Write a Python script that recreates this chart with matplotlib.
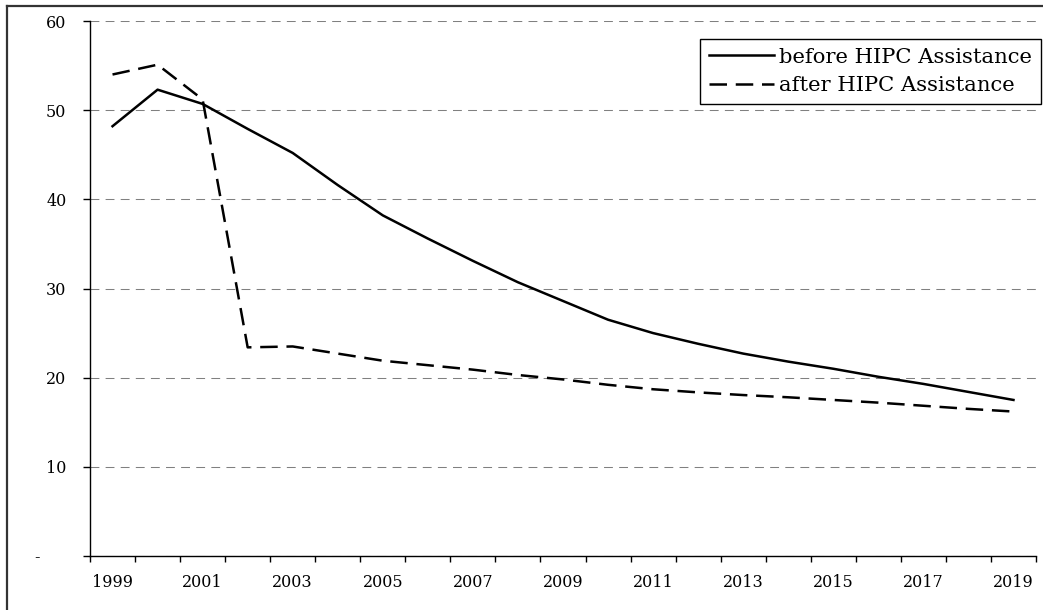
import matplotlib.pyplot as plt
from matplotlib.lines import Line2D

# Data
years = list(range(1999, 2020))
before_hipc = [48.2, 52.3, 50.7, 47.9, 45.2, 41.6, 38.2, 35.6, 33.1, 30.7,
               28.6, 26.5, 25.0, 23.8, 22.7, 21.8, 21.0, 20.1, 19.3, 18.4, 17.5]
after_hipc = [54.0, 55.1, 51.2, 23.4, 23.5, 22.7, 21.9, 21.4, 20.9, 20.3,
              19.8, 19.2, 18.7, 18.35, 18.05, 17.8, 17.5, 17.2, 16.85, 16.5, 16.2]
y_ticks = [0, 10, 20, 30, 40, 50, 60]
y_labels = ["-     ", "10", "20", "30", "40", "50", "60"]
x_labels = [str(y) for y in years[::2]]

plt.rcParams["font.family"] = "DejaVu Serif"

fig = plt.figure(figsize=(10.43, 6.10), dpi=100)
ax = fig.add_axes([90 / 1043, 1 - 556 / 610, (1036 - 90) / 1043, (556 - 21) / 610])

ax.plot(years, before_hipc, color="black", lw=1.8, label="before HIPC Assistance")
ax.plot(years, after_hipc, color="black", lw=1.8, dashes=(7, 3.5), label="after HIPC Assistance")

# category axis: ticks between years, labels under every second year
ax.set_xlim(years[0] - 0.5, years[-1] + 0.5)
ax.set_xticks([y - 0.5 for y in years] + [years[-1] + 0.5])
ax.set_xticklabels([])
ax.set_xticks(years[::2], minor=True)
ax.set_xticklabels(x_labels, minor=True)
ax.tick_params(axis="x", which="major", direction="out", length=4, width=1)
ax.tick_params(axis="x", which="minor", length=0, pad=13, labelsize=11.5)

ax.set_ylim(0, 60)
ax.set_yticks(y_ticks)
ax.set_yticklabels(y_labels)
ax.tick_params(axis="y", direction="out", length=5, width=1, pad=12, labelsize=11.5)

ax.yaxis.grid(True, color="#808080", lw=0.75, dashes=(8.5, 6))
ax.set_axisbelow(True)
for s in ["top", "right"]:
    ax.spines[s].set_visible(False)
for s in ["left", "bottom"]:
    ax.spines[s].set_linewidth(1)

leg = ax.legend(loc="upper right", bbox_to_anchor=(1041 / 1043, 1 - 39 / 610),
                bbox_transform=fig.transFigure, fontsize=15.2, frameon=True,
                fancybox=False, edgecolor="black", framealpha=1,
                handlelength=3.1, handletextpad=0.25, borderpad=0.42,
                labelspacing=0.45, borderaxespad=0)
leg.get_frame().set_linewidth(1)

# outer chart border (only top and left are visible in the reference)
fig.add_artist(Line2D([7 / 1043, 7 / 1043], [0, 1 - 6 / 610], color="#333333", lw=1.6,
                      transform=fig.transFigure))
fig.add_artist(Line2D([7 / 1043, 1], [1 - 6 / 610, 1 - 6 / 610], color="#333333", lw=1.6,
                      transform=fig.transFigure))

fig.savefig("out.png", dpi=100)
